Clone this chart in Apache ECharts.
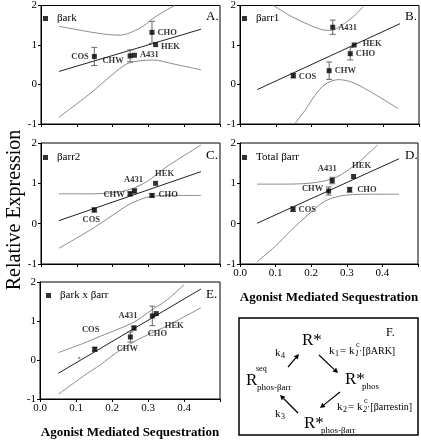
<!DOCTYPE html>
<html><head><meta charset="utf-8">
<script src="https://cdn.jsdelivr.net/npm/echarts@6/dist/echarts.min.js"></script>
<style>html,body{margin:0;padding:0;background:#fff}#c{width:421px;height:440px}</style>
</head><body><div id="c"></div>
<script>
// ---------- DATA ----------
const cells = ['COS', 'CHW', 'A431', 'CHO', 'HEK'];
const xTickLabels = ['0.0', '0.1', '0.2', '0.3', '0.4'];
const yTickLabels = ['-1', '0', '1', '2'];

// A. βark
const aX = [0.149, 0.249, 0.261, 0.310, 0.320];
const aY = [0.71, 0.725, 0.74, 1.32, 1.01];
const aErr = [0.23, 0.15, 0, 0.28, 0];
const aFit = [[0.05, 0.33], [0.447, 1.40]];
const aUpper = [[0.05, 1.475], [0.137, 1.33], [0.183, 1.27], [0.221, 1.25], [0.277, 1.43], [0.314, 1.68], [0.351, 1.89], [0.374, 2.0]];
const aLower = [[0.05, -0.83], [0.137, -0.23], [0.193, 0.2], [0.239, 0.52], [0.277, 0.6], [0.314, 0.62], [0.37, 0.52], [0.447, 0.37]];

// B. βarr1
const bX = [0.149, 0.249, 0.259, 0.308, 0.319];
const bY = [0.225, 0.35, 1.45, 0.78, 1.0];
const bErr = [0.06, 0.22, 0.18, 0.16, 0];
const bFit = [[0.048, -0.13], [0.447, 1.54]];
const bUpper = [[0.093, 2.0], [0.144, 1.72], [0.191, 1.52], [0.228, 1.39], [0.256, 1.37], [0.284, 1.5], [0.317, 1.72], [0.344, 1.97]];
const bLower = [[0.154, -0.98], [0.182, -0.65], [0.209, -0.28], [0.237, 0.0], [0.275, 0.125], [0.312, 0.06], [0.358, -0.15], [0.442, -0.61]];

// C. βarr2
const cX = [0.149, 0.249, 0.261, 0.310, 0.320];
const cY = [0.34, 0.74, 0.81, 0.70, 1.0];
const cErr = [0.05, 0.05, 0.05, 0.04, 0];
const cFit = [[0.05, 0.075], [0.447, 1.29]];
const cUpper = [[0.05, 0.74], [0.137, 0.74], [0.202, 0.77], [0.249, 0.85], [0.295, 1.04], [0.351, 1.41], [0.447, 1.95]];
const cLower = [[0.05, -0.61], [0.137, -0.16], [0.202, 0.22], [0.249, 0.49], [0.304, 0.67], [0.37, 0.70], [0.447, 0.70]];

// D. Total βarr
const dX = [0.149, 0.249, 0.259, 0.308, 0.319];
const dY = [0.36, 0.81, 1.07, 0.84, 1.17];
const dErr = [0.06, 0.1, 0.08, 0.06, 0];
const dFit = [[0.048, 0.01], [0.447, 1.61]];
const dUpper = [[0.048, 0.98], [0.126, 0.98], [0.191, 1.0], [0.237, 1.06], [0.275, 1.17], [0.33, 1.5], [0.386, 1.95]];
const dLower = [[0.048, -0.94], [0.098, -0.57], [0.144, -0.16], [0.191, 0.22], [0.237, 0.55], [0.284, 0.69], [0.349, 0.73], [0.447, 0.73]];

// E. βark x βarr
const eX = [0.152, 0.251, 0.261, 0.312, 0.323];
const eY = [0.275, 0.59, 0.82, 1.13, 1.19];
const eErr = [0.05, 0.13, 0.05, 0.25, 0];
const eExtra = [[0.109, 0.05]];
const eFit = [[0.051, -0.34], [0.447, 1.82]];
const eUpper = [[0.051, 0.19], [0.121, 0.43], [0.168, 0.61], [0.214, 0.78], [0.261, 0.97], [0.307, 1.26], [0.354, 1.55], [0.4, 1.93]];
const eLower = [[0.051, -0.88], [0.121, -0.41], [0.168, -0.12], [0.214, 0.2], [0.261, 0.47], [0.307, 0.68], [0.354, 0.88], [0.447, 1.34]];

// ---------- LAYOUT / STYLE ----------
const FONT = '"Liberation Serif", "DejaVu Serif", serif';
const panels = [
  {name: 'βark', letter: 'A.', x: aX, y: aY, err: aErr, fit: aFit, up: aUpper, lo: aLower,
   grid: {left: 41, top: 4, width: 179, height: 120}, xLab: false, legend: {left: 43, top: 13},
   lab: {COS: ['left', [0, 0]], CHW: ['left', [-1, 5]], A431: ['right', [0, 0]], CHO: ['right', [0, 0]], HEK: ['right', [0, 2]]}},
  {name: 'βarr1', letter: 'B.', x: bX, y: bY, err: bErr, fit: bFit, up: bUpper, lo: bLower,
   grid: {left: 240, top: 4, width: 179, height: 120}, xLab: false, legend: {left: 242, top: 13},
   lab: {COS: ['right', [0, 1]], CHW: ['right', [0, 0]], A431: ['right', [0, 1]], CHO: ['right', [0, 0]], HEK: ['right', [3, -1]]}},
  {name: 'βarr2', letter: 'C.', x: cX, y: cY, err: cErr, fit: cFit, up: cUpper, lo: cLower,
   grid: {left: 41, top: 143, width: 179, height: 121}, xLab: false, legend: {left: 43, top: 152},
   lab: {COS: ['bottom', [-3, 0]], CHW: ['left', [0, 1]], A431: ['top', [-1, -1]], CHO: ['right', [1, -1]], HEK: ['top', [9, 0]]}},
  {name: 'Total βarr', letter: 'D.', x: dX, y: dY, err: dErr, fit: dFit, up: dUpper, lo: dLower,
   grid: {left: 240, top: 143, width: 179, height: 121}, xLab: true, legend: {left: 242, top: 152},
   lab: {COS: ['right', [0, 1]], CHW: ['left', [0, -2]], A431: ['top', [-5, -2]], CHO: ['right', [2, 0]], HEK: ['top', [8, -1]]}},
  {name: 'βark x βarr', letter: 'E.', x: eX, y: eY, err: eErr, fit: eFit, up: eUpper, lo: eLower,
   grid: {left: 40, top: 282, width: 180, height: 120}, xLab: true, legend: {left: 46, top: 290},
   lab: {COS: ['top', [-4, -9]], CHW: ['bottom', [-3, 2]], A431: ['top', [-6, -2]], CHO: ['bottom', [5, 8]], HEK: ['right', [3, 12]]}}
];

const chart = echarts.init(document.getElementById('c'), null, {renderer: 'canvas'});
const grids = [], xAxes = [], yAxes = [], series = [], legends = [], graphics = [];

panels.forEach((p, i) => {
  grids.push(Object.assign({show: true, borderColor: '#000', borderWidth: 1, containLabel: false}, p.grid));
  xAxes.push({
    type: 'value', gridIndex: i, min: 0, max: 0.5, interval: 0.1,
    axisLine: {onZero: false, lineStyle: {color: '#000', width: 1}},
    axisTick: {show: true, length: 3, lineStyle: {color: '#000'}},
    splitLine: {show: false},
    axisLabel: {show: p.xLab, fontFamily: FONT, fontSize: 11, color: '#000', margin: 4,
      formatter: v => (v < 0.45 ? xTickLabels[Math.round(v * 10)] : '')},
    name: p.xLab ? 'Agonist Mediated Sequestration' : '',
    nameLocation: 'middle', nameGap: 27,
    nameTextStyle: {fontFamily: FONT, fontSize: 13, fontWeight: 'bold', color: '#000'}
  });
  yAxes.push({
    type: 'value', gridIndex: i, min: -1, max: 2, interval: 1,
    axisLine: {onZero: false, lineStyle: {color: '#000', width: 1}},
    axisTick: {show: true, length: 3, lineStyle: {color: '#000'}},
    splitLine: {show: false},
    axisLabel: {fontFamily: FONT, fontSize: 11, color: '#000', margin: 4,
      formatter: v => yTickLabels[Math.round(v) + 1]}
  });
  // bands
  [p.up, p.lo].forEach(band => series.push({
    type: 'line', xAxisIndex: i, yAxisIndex: i, data: band, symbol: 'none', smooth: 0.3,
    lineStyle: {color: '#8a8a8a', width: 1}, silent: true, clip: true, z: 2
  }));
  // regression
  series.push({type: 'line', xAxisIndex: i, yAxisIndex: i, data: p.fit, symbol: 'none',
    lineStyle: {color: '#222', width: 1}, silent: true, z: 3});
  // error bars
  series.push({
    type: 'custom', xAxisIndex: i, yAxisIndex: i, z: 4, silent: true,
    data: p.x.map((x, k) => [x, p.y[k], p.err[k]]),
    renderItem: (params, api) => {
      const x = api.value(0), y = api.value(1), e = api.value(2);
      if (!e) return {type: 'group', children: []};
      const t = api.coord([x, y + e]), b = api.coord([x, y - e]);
      const st = {stroke: '#666', lineWidth: 1};
      return {type: 'group', children: [
        {type: 'line', shape: {x1: t[0], y1: t[1], x2: b[0], y2: b[1]}, style: st},
        {type: 'line', shape: {x1: t[0] - 3, y1: t[1], x2: t[0] + 3, y2: t[1]}, style: st},
        {type: 'line', shape: {x1: b[0] - 3, y1: b[1], x2: b[0] + 3, y2: b[1]}, style: st}
      ]};
    }
  });
  // points
  series.push({
    name: p.name, type: 'scatter', xAxisIndex: i, yAxisIndex: i, symbol: 'rect', symbolSize: 5, z: 5,
    itemStyle: {color: '#000'},
    data: p.x.map((x, k) => ({
      value: [x, p.y[k]], name: cells[k],
      label: {show: true, formatter: cells[k], position: p.lab[cells[k]][0], offset: p.lab[cells[k]][1], distance: 3,
        fontFamily: FONT, fontSize: 8.5, fontWeight: 'bold', color: '#000'}
    }))
  });
  legends.push({data: [p.name], left: p.legend.left, top: p.legend.top, icon: 'rect', itemWidth: 5, itemHeight: 5,
    itemGap: 4, padding: 0, selectedMode: false,
    textStyle: {fontFamily: FONT, fontSize: 11, color: '#000', padding: [0, 0, 0, 4]}});
  graphics.push({type: 'text', left: p.grid.left + p.grid.width - 14, top: p.grid.top + 6,
    style: {text: p.letter, font: '13px ' + FONT, fill: '#000'}});
});
// extra small point in E
series.push({type: 'scatter', xAxisIndex: 4, yAxisIndex: 4, data: eExtra, symbol: 'circle', symbolSize: 2.5,
  itemStyle: {color: '#777'}, silent: true, z: 5});

// y title
graphics.push({type: 'text', x: 15, y: 210, rotation: Math.PI / 2,
  style: {text: 'Relative Expression', font: '20px ' + FONT, fill: '#000', align: 'center', verticalAlign: 'middle'}});

// Panel F diagram
function arrow(x1, y1, x2, y2) {
  const dx = x2 - x1, dy = y2 - y1, L = Math.hypot(dx, dy), ux = dx / L, uy = dy / L;
  const hl = 5, hw = 2.6, bx = x2 - ux * hl, by = y2 - uy * hl;
  return [
    {type: 'line', shape: {x1: x1, y1: y1, x2: bx, y2: by}, style: {stroke: '#000', lineWidth: 1.2}},
    {type: 'polygon', shape: {points: [[x2, y2], [bx - uy * hw, by + ux * hw], [bx + uy * hw, by - ux * hw]]}, style: {fill: '#000'}}
  ];
}
const T = (x, y, text, size, extra) => Object.assign({type: 'text', x: x, y: y,
  style: Object.assign({text: text, font: size + 'px ' + FONT, fill: '#000', verticalAlign: 'middle'}, extra || {})});
const diagram = [
  {type: 'rect', shape: {x: 239, y: 318, width: 179, height: 117}, style: {fill: 'none', stroke: '#000', lineWidth: 1.5}},
  T(302, 341, 'R*', 17),
  T(386, 333, 'F.', 12),
  T(275, 353, 'k', 11), T(281, 356, '4', 8),
  T(329, 351, 'k', 11), T(335, 354, '1', 8), T(340, 351, '= k', 11),
  T(355, 354, '1', 8, {font: 'italic 8px ' + FONT}), T(356, 345, 'c', 8), T(359, 351, '·[βARK]', 10),
  T(345, 380, 'R*', 17), T(362, 387, 'phos', 9),
  T(256, 369, 'seq', 8),
  T(246, 381, 'R', 17), T(257, 388, 'phos-βarr', 9),
  T(337, 407, 'k', 11), T(343, 410, '2', 8), T(348, 407, '= k', 11),
  T(363, 410, '2', 8, {font: 'italic 8px ' + FONT}), T(364, 401, 'c', 8), T(367, 407, '·[βarrestin]', 10),
  T(275, 414, 'k', 11), T(281, 417, '3', 8),
  T(304, 424, 'R*', 17), T(321, 431, 'phos-βarr', 9)
].concat(arrow(288, 367, 299, 354), arrow(319, 355, 338, 373), arrow(340, 392, 320, 408), arrow(298, 413, 280, 395));

chart.setOption({
  animation: false,
  backgroundColor: '#fff',
  grid: grids, xAxis: xAxes, yAxis: yAxes, legend: legends, series: series,
  graphic: graphics.concat(diagram)
});
</script></body></html>
